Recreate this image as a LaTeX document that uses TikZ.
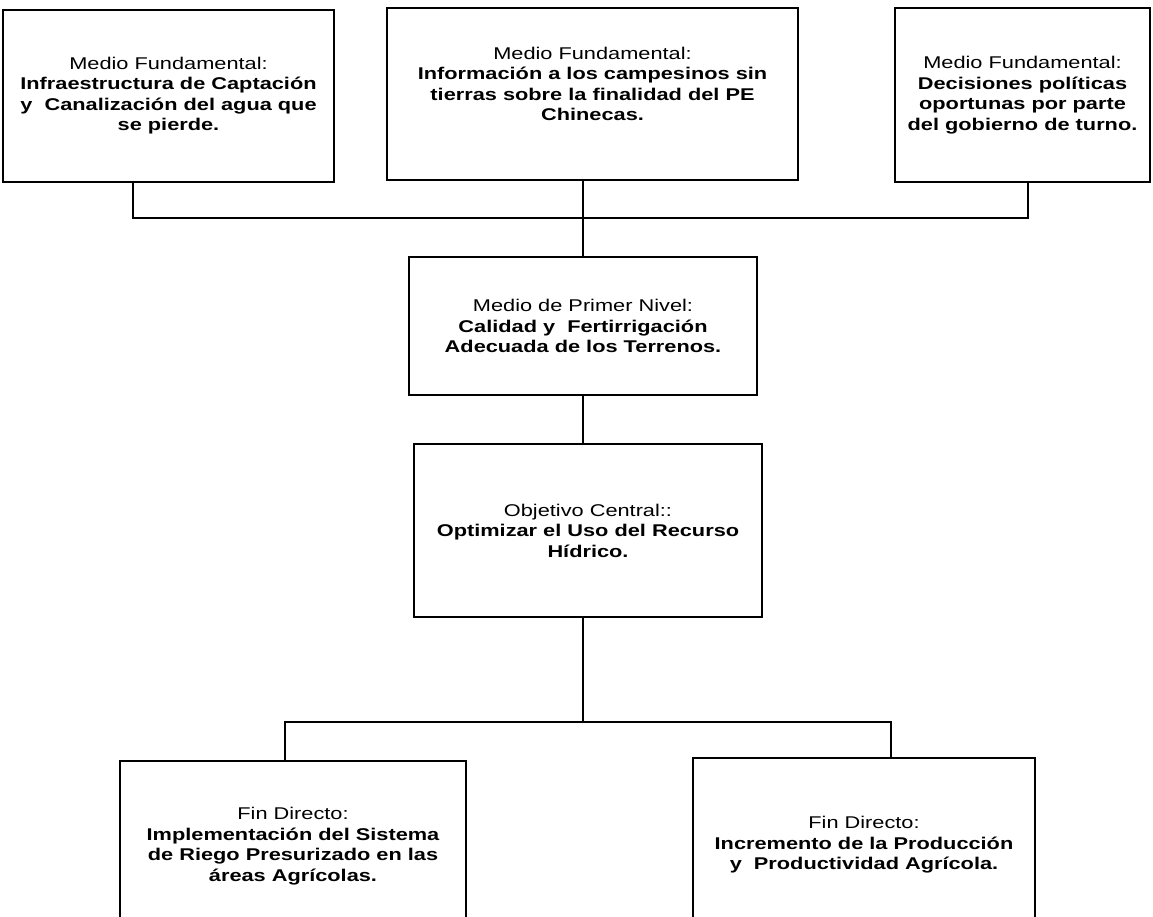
\documentclass[tikz,border=0pt]{standalone}
\usepackage{fontspec}
\setmainfont{Liberation Sans}[FakeStretch=1.28]
\usetikzlibrary{positioning}

\begin{document}
\begin{tikzpicture}[x=1pt,y=-1pt,
  font=\fontsize{17}{20.5}\selectfont,
  box/.style={draw,line width=2pt,align=center,inner sep=2pt},
  conn/.style={line width=2pt}]
  \useasboundingbox (0,0) rectangle (1153,916);
  \clip (0,0) rectangle (1153,916);
  % medios fundamentales
  \node[box,minimum width=331pt,minimum height=172pt] (fundA) at (168.5,95.5)
      {Medio Fundamental:\\\bfseries Infraestructura de Captación\\\bfseries y\ \ Canalización del agua que\\\bfseries se pierde.};
  \node[box,minimum width=411pt,minimum height=172pt,text depth=20pt] (fundB) at (592.5,94)
      {Medio Fundamental:\\\bfseries Información a los campesinos sin\\\bfseries tierras sobre la finalidad del PE\\\bfseries Chinecas.};
  \node[box,minimum width=255pt,minimum height=174pt] (fundC) at (1022.5,95)
      {Medio Fundamental:\\\bfseries Decisiones políticas\\\bfseries oportunas por parte\\\bfseries del gobierno de turno.};
  \coordinate (busT) at (583,218);
  % medio de primer nivel y objetivo
  \node[box,minimum width=348pt,minimum height=138pt] (primer) at (583,326)
      {Medio de Primer Nivel:\\\bfseries Calidad y\ \ Fertirrigación\\\bfseries Adecuada de los Terrenos.};
  \node[box,minimum width=348pt,minimum height=173pt,below=47pt of primer,xshift=5pt] (objetivo)
      {Objetivo Central::\\\bfseries Optimizar el Uso del Recurso\\\bfseries Hídrico.};
  \coordinate (busB) at (583,722);
  % fines directos
  \node[box,minimum width=346pt,minimum height=170pt] (finA) at (293,846)
      {Fin Directo:\\\bfseries Implementación del Sistema\\\bfseries de Riego Presurizado en las\\\bfseries áreas Agrícolas.};
  \node[box,minimum width=342pt,minimum height=174pt] (finB) at (864,845)
      {Fin Directo:\\\bfseries Incremento de la Producción\\\bfseries y\ \ Productividad Agrícola.};
  \draw[conn] ([xshift=-35.5pt]fundA.south) |- (busT) -| ([xshift=5.5pt]fundC.south);
  \draw[conn] (fundB.south -| busT) -- (primer.north -| busT);
  \draw[conn] (primer.south) -- (objetivo.north -| primer.south);
  \draw[conn] (objetivo.south -| busB) -- (busB);
  \draw[conn] ([xshift=-8pt]finA.north) |- (busB) -| ([xshift=27pt]finB.north);
\end{tikzpicture}
\end{document}
